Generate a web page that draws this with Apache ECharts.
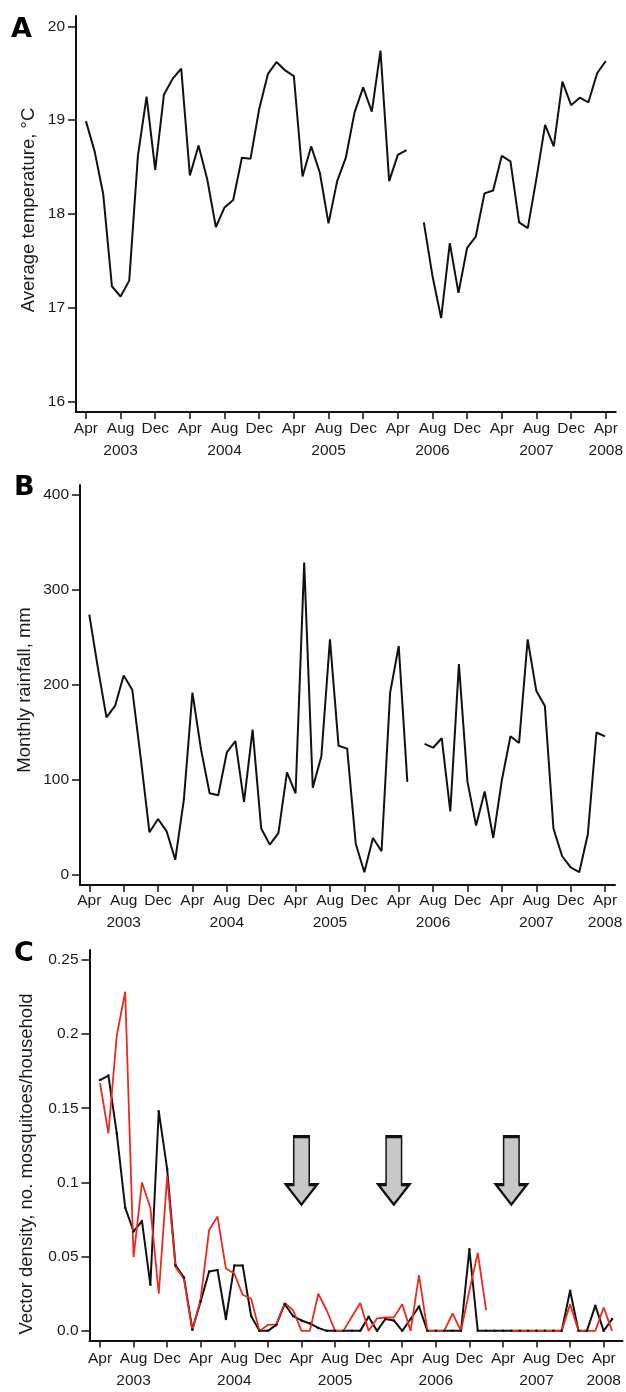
<!DOCTYPE html>
<html>
<head>
<meta charset="UTF-8">
<title></title>
<script type="text/javascript" src="https://cdn.jsdelivr.net/npm/echarts@6/dist/echarts.min.js"></script>
<style>html,body{margin:0;padding:0;background:#fff;}</style>
</head>
<body>
<div id="main" style="width:626px;height:1392px;"></div>
<script type="text/javascript">
// months counted from Apr 2003 (0) ; ticks every 4 months
var tickIdx = [0, 4, 8, 12, 16, 20, 24, 28, 32, 36, 40, 44, 48, 52, 56, 60];
var tickLabels = ['Apr', 'Aug\n2003', 'Dec', 'Apr', 'Aug\n2004', 'Dec', 'Apr', 'Aug\n2005', 'Dec',
                  'Apr', 'Aug\n2006', 'Dec', 'Apr', 'Aug\n2007', 'Dec', 'Apr\n2008'];

// A: average temperature, °C (Apr 2003 - Apr 2008)
var temperature = [18.99, 18.67, 18.21, 17.23, 17.12, 17.29, 18.62, 19.25, 18.47, 19.27,
                   19.44, 19.55, 18.41, 18.73, 18.37, 17.86, 18.07, 18.15, 18.60, 18.59,
                   19.12, 19.49, 19.62, 19.53, 19.47, 18.40, 18.72, 18.44, 17.90, 18.35,
                   18.60, 19.08, 19.35, 19.09, 19.74, 18.35, 18.63, 18.68, null, 17.91,
                   17.34, 16.89, 17.69, 17.16, 17.64, 17.76, 18.22, 18.25, 18.62, 18.56,
                   17.91, 17.85, 18.38, 18.95, 18.72, 19.41, 19.16, 19.24, 19.19, 19.50, 19.63];
var tempTicks = [16, 17, 18, 19, 20];

// B: monthly rainfall, mm
var rainfall = [274, 218, 166, 178, 210, 195, 122, 45, 59, 46,
                16, 79, 192, 132, 86, 84, 129, 141, 77, 153,
                49, 32, 44, 108, 86, 329, 92, 125, 248, 136,
                133, 33, 3, 39, 25, 192, 241, 98, null, 138,
                134, 144, 67, 222, 98, 52, 88, 39, 100, 146,
                139, 248, 194, 178, 49, 20, 8, 3, 43, 150, 146];
var rainTicks = [0, 100, 200, 300, 400];

// C: vector density, black and red series (Apr 2003 - May 2008)
var densityBlack = [0.169, 0.172, 0.133, 0.083, 0.067, 0.074, 0.031, 0.148, 0.109, 0.044,
                    0.036, 0.001, 0.020, 0.040, 0.041, 0.008, 0.044, 0.044, 0.010, 0,
                    0, 0.004, 0.018, 0.010, 0.007, 0.005, 0.002, 0, 0, 0,
                    0, 0, 0.0095, 0, 0.008, 0.007, 0, 0.008, 0.0165, 0,
                    0, 0, 0, 0, 0.055, 0, 0, 0, 0, 0,
                    0, 0, 0, 0, 0, 0, 0.027, 0, 0, 0.017,
                    0, 0.008];
var densityRed = [0.167, 0.133, 0.199, 0.2285, 0.0496, 0.100, 0.083, 0.025, 0.104, 0.043,
                  0.035, 0, 0.022, 0.068, 0.077, 0.042, 0.0386, 0.0243, 0.0216, 0,
                  0.004, 0.0044, 0.0188, 0.0139, 0, 0, 0.025, 0.0139, 0, 0,
                  0.0095, 0.0188, 0, 0.0084, 0.009, 0.009, 0.018, 0, 0.0375, 0,
                  0, 0, 0.0117, 0, 0.027, 0.0525, 0.0139, null, null, 0,
                  0, 0, 0, 0, 0, 0, 0.0179, 0, 0, 0,
                  0.0157, 0];
var densTicks = [0, 0.05, 0.1, 0.15, 0.2, 0.25];

// arrows (month index)
var arrowMonths = [24, 35, 49];
var arrowLevel = 0.108;

function pairs(arr) {
    return arr.map(function (v, i) { return [i, v == null ? '-' : v]; });
}

var FONT = 'Liberation Sans';
var TXT = '#1a1a1a';

function xAxisOf(grid, min, max, margin) {
    return {
        type: 'value', gridIndex: grid, min: min, max: max,
        axisLine: { onZero: false, lineStyle: { color: '#111', width: 2 } },
        axisTick: { length: 7, lineStyle: { color: '#111', width: 1.5 }, customValues: tickIdx },
        axisLabel: {
            customValues: tickIdx, margin: margin, color: TXT, fontSize: 15.5, fontFamily: FONT, lineHeight: 22.5,
            formatter: function (v) { return tickLabels[Math.round(v / 4)]; }
        },
        splitLine: { show: false }
    };
}
function yAxisOf(grid, min, max, ticks, fmt) {
    return {
        type: 'value', gridIndex: grid, min: min, max: max,
        axisLine: { show: true, onZero: false, lineStyle: { color: '#111', width: 2 } },
        axisTick: { show: true, length: 8, lineStyle: { color: '#111', width: 1.5 }, customValues: ticks },
        axisLabel: { customValues: ticks, margin: 11, color: TXT, fontSize: 15.5, fontFamily: FONT, formatter: fmt },
        splitLine: { show: false }
    };
}

var myChart = echarts.init(document.getElementById('main'), null, { renderer: 'canvas' });

var panelStyle = { fontSize: 27, fontWeight: 900, fontFamily: 'DejaVu Sans', fill: '#000', verticalAlign: 'middle' };

var option = {
    backgroundColor: '#fff',
    animation: false,
    grid: [
        { left: 76, top: 16, width: 544, height: 396 },
        { left: 80, top: 485, width: 535, height: 400 },
        { left: 89.5, top: 950, width: 533, height: 397.5 }
    ],
    xAxis: [
        xAxisOf(0, -1.145, 61.15, 5),
        xAxisOf(1, -1.08, 61.16, 4),
        xAxisOf(2, -1.25, 62.24, 6.5)
    ],
    yAxis: [
        yAxisOf(0, 15.89, 20.11, tempTicks, function (v) { return String(v); }),
        yAxisOf(1, -10.5, 410.5, rainTicks, function (v) { return String(v); }),
        yAxisOf(2, -0.00649, 0.25662, densTicks, function (v) { return v === 0 ? '0.0' : String(v); })
    ],
    graphic: [
        { type: 'text', x: 11, y: 29.5, style: Object.assign({ text: 'A' }, panelStyle) },
        { type: 'text', x: 14, y: 488, style: Object.assign({ text: 'B' }, panelStyle) },
        { type: 'text', x: 14, y: 954, style: Object.assign({ text: 'C' }, panelStyle) },
        { type: 'text', x: 29, y: 210, rotation: Math.PI / 2, style: { text: 'Average temperature, °C', fontSize: 18.5, fontFamily: FONT, fill: TXT, align: 'center', verticalAlign: 'middle' } },
        { type: 'text', x: 25, y: 690, rotation: Math.PI / 2, style: { text: 'Monthly rainfall, mm', fontSize: 18.5, fontFamily: FONT, fill: TXT, align: 'center', verticalAlign: 'middle' } },
        { type: 'text', x: 27, y: 1164, rotation: Math.PI / 2, style: { text: 'Vector density, no. mosquitoes/household', fontSize: 18.5, fontFamily: FONT, fill: TXT, align: 'center', verticalAlign: 'middle' } }
    ],
    series: [
        {
            type: 'line', xAxisIndex: 0, yAxisIndex: 0, data: pairs(temperature),
            showSymbol: false, lineStyle: { color: '#111', width: 2 }
        },
        {
            type: 'line', xAxisIndex: 1, yAxisIndex: 1, data: pairs(rainfall),
            showSymbol: false, lineStyle: { color: '#111', width: 2 }
        },
        {
            type: 'line', xAxisIndex: 2, yAxisIndex: 2, data: pairs(densityBlack),
            symbol: 'circle', symbolSize: 2.5, showSymbol: true,
            itemStyle: { color: '#111' }, lineStyle: { color: '#111', width: 2 }
        },
        {
            type: 'line', xAxisIndex: 2, yAxisIndex: 2, data: pairs(densityRed),
            showSymbol: false, lineStyle: { color: '#ec2a1e', width: 1.8 },
            markPoint: {
                symbol: 'path://M8,0L24,0L24,48L32,48L16,68L0,48L8,48Z',
                symbolSize: [31, 68],
                itemStyle: { color: '#c8c8c8', borderColor: '#111', borderWidth: 2.2 },
                label: { show: false },
                data: arrowMonths.map(function (m) { return { coord: [m, arrowLevel] }; })
            }
        }
    ]
};
myChart.setOption(option);
</script>
</body>
</html>
